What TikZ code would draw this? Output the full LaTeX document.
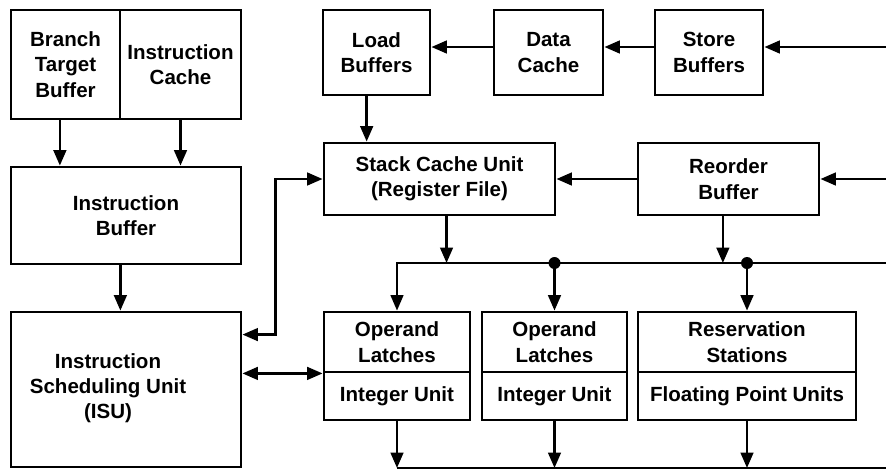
\documentclass[tikz,border=0pt]{standalone}
\usepackage{fontspec}
\setmainfont{Liberation Sans}
\usetikzlibrary{arrows.meta,calc}

\tikzset{
  boxtext/.style={align=center, font=\fontsize{14.6}{18}\selectfont\bfseries},
  unit/.style={boxtext, draw, line width=2pt, inner sep=2pt},
  link/.style={line width=1.8pt, -{Triangle[length=11pt,width=9pt]}},
  twoway/.style={line width=1.8pt, {Triangle[length=11pt,width=9pt]}-{Triangle[length=11pt,width=9pt]}},
  bus/.style={line width=1.6pt},
}

\begin{document}
\begin{tikzpicture}[x=0.025cm, y=-0.025cm]
    \useasboundingbox (0,0) rectangle (886,469);

    % Fetch side
    \node[unit, minimum width=2.725cm, minimum height=2.725cm] (btb) at (65.5,64.5) {Branch\\Target\\Buffer};
    \node[unit, minimum width=3.025cm, minimum height=2.725cm] (ic) at (180.5,64.5) {Instruction\\Cache};
    \node[unit, minimum width=5.75cm, minimum height=2.425cm] (ib) at (126,215.5) {Instruction\\Buffer};
    \node[unit, minimum width=5.75cm, minimum height=3.875cm] (isu) at (126,389.5) {};
    \node[boxtext] (isutext) at (108,388) {Instruction\\Scheduling Unit\\(ISU)};

    % Memory side
    \node[unit, minimum width=2.675cm, minimum height=2.125cm] (lb) at (376.5,52.5) {Load\\Buffers};
    \node[unit, minimum width=2.725cm, minimum height=2.125cm] (dc) at (548.5,52.5) {Data\\Cache};
    \node[unit, minimum width=2.7cm, minimum height=2.125cm] (sb) at (709,52.5) {Store\\Buffers};
    \node[unit, minimum width=5.775cm, minimum height=1.8cm] (scu) at (439.5,179) {Stack Cache Unit\\(Register File)};
    \node[unit, minimum width=4.525cm, minimum height=1.8cm] (rob) at (728.5,179) {Reorder\\Buffer};

    % Execution units
    \node[unit, minimum width=3.65cm, minimum height=1.5cm] (ol1) at (397,342) {Operand\\Latches};
    \node[unit, minimum width=3.65cm, minimum height=1.2cm] (iu1) at (397,396) {Integer Unit};
    \node[unit, minimum width=3.625cm, minimum height=1.5cm] (ol2) at (554.5,342) {Operand\\Latches};
    \node[unit, minimum width=3.625cm, minimum height=1.2cm] (iu2) at (554.5,396) {Integer Unit};
    \node[unit, minimum width=5.45cm, minimum height=1.5cm] (rs) at (747,342) {Reservation\\Stations};
    \node[unit, minimum width=5.45cm, minimum height=1.2cm] (fpu) at (747,396) {Floating Point Units};

    % Free ends at the right and bottom
    \coordinate (memin) at (886,47);
    \coordinate (robin) at (886,179);
    \coordinate (busr) at (886,263);
    \coordinate (outr) at (886,468);
    \coordinate (tapa) at (ol2.north |- busr);
    \coordinate (tapb) at (rs.north |- busr);

    % Fetch arrows
    \draw[link] ([xshift=-4pt]btb.south) -- ([xshift=-4pt]btb.south |- ib.north);
    \draw[link] (ic.south) -- (ic.south |- ib.north);
    \draw[link] ([xshift=-4pt]ib.south) -- ([xshift=-4pt]isu.north);
    \draw[twoway] ($(isu.north east)+(0,24)$) -| ($(scu.west)+(-47,0)$) -- (scu.west);
    \draw[twoway] (ol1.south west -| isu.east) -- (ol1.south west);

    % Memory arrows
    \draw[link] (memin) -- (sb.east |- memin);
    \draw[link] (sb.west |- memin) -- (dc.east |- memin);
    \draw[link] (dc.west |- memin) -- (lb.east |- memin);
    \draw[link] ([xshift=-7pt]lb.south) -- ([xshift=-7pt]lb.south |- scu.north);
    \draw[link] (robin) -- (rob.east);
    \draw[link] (rob.west) -- (scu.east);

    % Operand bus
    \draw[bus, -{Triangle[length=11pt,width=9pt]}] (busr) -| (ol1.north);
    \draw[link] ([xshift=5pt]scu.south) -- ([xshift=5pt]scu.south |- busr);
    \draw[link] ([xshift=-4pt]rob.south) -- ([xshift=-4pt]rob.south |- busr);
    \fill (tapa) circle[radius=0.15cm];
    \fill (tapb) circle[radius=0.15cm];
    \draw[link] (tapa) -- (ol2.north);
    \draw[link] (tapb) -- (rs.north);

    % Result bus
    \draw[bus] (outr) -- (iu1.south |- outr);
    \draw[link] (iu1.south) -- (iu1.south |- outr);
    \draw[link] (iu2.south) -- (iu2.south |- outr);
    \draw[link] (fpu.south) -- (fpu.south |- outr);
\end{tikzpicture}
\end{document}
